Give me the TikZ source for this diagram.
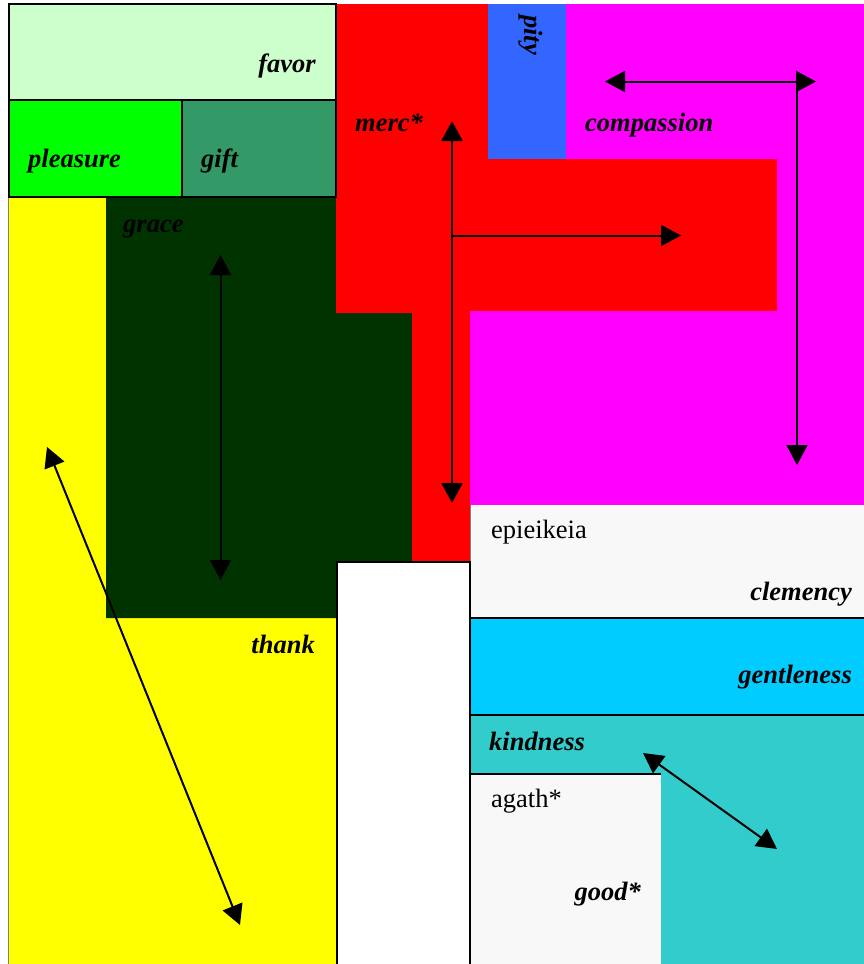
\documentclass[tikz,border=0pt]{standalone}
\usepackage{fontspec}
\setmainfont{Liberation Serif}
\usetikzlibrary{arrows.meta}
\definecolor{cfavor}{HTML}{CCFFCC}
\definecolor{cpleasure}{HTML}{00FF00}
\definecolor{cgift}{HTML}{339966}
\definecolor{cgrace}{HTML}{003300}
\definecolor{cmerc}{HTML}{FF0000}
\definecolor{cpity}{HTML}{3366FF}
\definecolor{ccomp}{HTML}{FF00FF}
\definecolor{cclem}{HTML}{F8F8F8}
\definecolor{cgentle}{HTML}{00CCFF}
\definecolor{ckind}{HTML}{33CCCC}
\definecolor{cthank}{HTML}{FFFF00}
\tikzset{
  lbl/.style={font=\fontsize{26.5}{30}\selectfont\bfseries\itshape, inner sep=0pt},
  plainlbl/.style={font=\fontsize{26.5}{30}\selectfont, inner sep=0pt},
  boxline/.style={draw=black, line width=1.5pt},
  arr/.style={line width=2pt, -{Triangle[length=20pt,width=21pt]}},
  darr/.style={line width=2pt, {Triangle[length=20pt,width=21pt]}-{Triangle[length=20pt,width=21pt]}}
}
\begin{document}
\begin{tikzpicture}[x=1pt,y=-1pt]
\useasboundingbox (0,0) rectangle (864,964);
% thank (yellow)
\fill[cthank] (8,197) rectangle (337,964);
\draw[gray, line width=0.8pt] (8,197) -- (8,964);
% grace (dark green)
\fill[cgrace] (106,197) -- (336,197) -- (336,313) -- (412,313) -- (412,562) -- (336,562) -- (336,618) -- (106,618) -- cycle;
% merc (red)
\fill[cmerc] (336,4) -- (488,4) -- (488,159) -- (777,159) -- (777,311) -- (470,311) -- (470,562) -- (412,562) -- (412,313) -- (336,313) -- cycle;
% compassion (magenta)
\fill[ccomp] (566,4) -- (864,4) -- (864,505) -- (470,505) -- (470,311) -- (777,311) -- (777,159) -- (566,159) -- cycle;
% pity
\fill[cpity] (488,4) rectangle (566,159);
% favor, pleasure, gift
\filldraw[fill=cfavor, boxline] (9,4) rectangle (336,100);
\filldraw[fill=cpleasure, boxline] (9,100) rectangle (182,197);
\filldraw[fill=cgift, boxline] (182,100) rectangle (336,197);
% clemency
\fill[cclem] (470,505) rectangle (864,618);
\draw[gray, line width=0.8pt] (470,505) -- (470,618);
% gentleness
\filldraw[fill=cgentle, boxline] (470,618) rectangle (866,715);
% kindness
\filldraw[fill=ckind, boxline] (470,715) rectangle (866,966);
% agath
\fill[cclem] (470,774) rectangle (661,964);
\draw[black, line width=1.2pt] (661,774) -- (470,774) -- (470,964);
% white box
\filldraw[fill=white, draw=black, line width=1.2pt] (337,966) -- (337,562) -- (470,562) -- (470,966);

% labels
\node[lbl, anchor=base east] (favor) at (316,72) {favor};
\node[lbl, anchor=base west] (pleasure) at (28,167) {pleasure};
\node[lbl, anchor=base west] (gift) at (201,167) {gift};
\node[lbl, anchor=base west] (merc) at (355,131) {merc*};
\node[lbl, anchor=base west] (grace) at (123,232) {grace};
\node[lbl, anchor=base west] (compassion) at (585,131) {compassion};
\node[lbl, anchor=base west, rotate=-90] (pity) at (524,15) {pity};
\node[plainlbl, anchor=base west] (epieikeia) at (491,538) {epieikeia};
\node[lbl, anchor=base east] (clemency) at (852,600) {clemency};
\node[lbl, anchor=base east] (gentleness) at (852,683) {gentleness};
\node[lbl, anchor=base west] (kindness) at (489,750) {kindness};
\node[plainlbl, anchor=base west] (agath) at (491,807) {agath*};
\node[lbl, anchor=base east] (good) at (641,900) {good*};
\node[lbl, anchor=base east] (thank) at (315,653) {thank};

% arrow end points
\coordinate (mTop) at (452,121);
\coordinate (mBot) at (452,503);
\coordinate (mMid) at (452,235.5);
\coordinate (mRight) at (681,235.5);
\coordinate (cLeft) at (605,81.5);
\coordinate (cRight) at (816,81.5);
\coordinate (cCorner) at (797,81.5);
\coordinate (cBot) at (797,465);
\coordinate (gTop) at (220.5,255);
\coordinate (gBot) at (220.5,580);
\coordinate (tTop) at (47,447);
\coordinate (tBot) at (240,925);
\coordinate (kTop) at (643,753);
\coordinate (kBot) at (777,849);

\draw[darr] (mTop) -- (mBot);
\draw[arr] (mMid) -- (mRight);
\draw[darr] (cLeft) -- (cRight);
\draw[arr] (cCorner) -- (cBot);
\draw[darr] (gTop) -- (gBot);
\draw[darr] (tTop) -- (tBot);
\draw[darr] (kTop) -- (kBot);
\end{tikzpicture}
\end{document}
